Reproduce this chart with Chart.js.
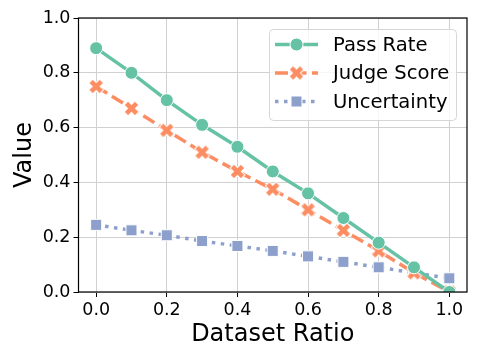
<!DOCTYPE html>
<html><head><meta charset="utf-8">
<script src="https://cdn.jsdelivr.net/npm/chart.js@4"></script>
<style>html,body{margin:0;padding:0;background:#fff}#wrap{width:478px;height:359px}</style>
</head><body><div id="wrap"><canvas id="c" width="478" height="359"></canvas></div>
<script>
const ratios = [0.0,0.1,0.2,0.3,0.4,0.5,0.6,0.7,0.8,0.9,1.0];
const passRate = [0.89,0.80,0.70,0.61,0.53,0.44,0.36,0.27,0.18,0.09,0.0];
const judgeScore = [0.75,0.67,0.59,0.51,0.44,0.375,0.30,0.225,0.15,0.07,0.0];
const uncertainty = [0.245,0.225,0.207,0.186,0.168,0.15,0.13,0.11,0.09,0.07,0.05];
const xTicks = [0.0,0.2,0.4,0.6,0.8,1.0];
const yTicks = [0.0,0.2,0.4,0.6,0.8,1.0];
const seriesNames = ['Pass Rate','Judge Score','Uncertainty'];

const FONT = 'DejaVu Sans';
const C1='#66c2a5', C2='#fc8d62', C3='#8da0cb';

function xMarker(color, r){
  const s = Math.ceil(r*2+4);
  const cv = document.createElement('canvas'); cv.width=s; cv.height=s;
  const ctx = cv.getContext('2d');
  const c = s/2, a = r*1.05, t = r*0.38;
  ctx.translate(c,c); ctx.rotate(Math.PI/4);
  ctx.beginPath();
  ctx.moveTo(-t,-a); ctx.lineTo(t,-a); ctx.lineTo(t,-t); ctx.lineTo(a,-t); ctx.lineTo(a,t);
  ctx.lineTo(t,t); ctx.lineTo(t,a); ctx.lineTo(-t,a); ctx.lineTo(-t,t); ctx.lineTo(-a,t);
  ctx.lineTo(-a,-t); ctx.lineTo(-t,-t); ctx.closePath();
  ctx.fillStyle=color; ctx.fill();
  ctx.strokeStyle='#fff'; ctx.lineWidth=1; ctx.stroke();
  return cv;
}
const xImg = xMarker(C2, 7.3);

const pts = arr => ratios.map((x,i)=>({x, y: arr[i]}));

const frameAndLegend = {
  id:'frameAndLegend',
  afterDatasetsDraw(chart){
    const {ctx, chartArea:a} = chart;
    ctx.save();
    ctx.strokeStyle='#000'; ctx.lineWidth=1.2;
    ctx.strokeRect(a.left, a.top, a.right-a.left, a.bottom-a.top);
    ctx.restore();
  },
  afterDraw(chart){
    const ctx = chart.ctx;
    const L = {x:269.5, y:29.5, w:187, h:91, r:4};
    ctx.save();
    ctx.beginPath();
    ctx.roundRect(L.x, L.y, L.w, L.h, L.r);
    ctx.fillStyle='rgba(255,255,255,0.8)'; ctx.fill();
    ctx.strokeStyle='#d6d6d6'; ctx.lineWidth=1; ctx.stroke();
    const rows=[44.5,73,101.5];
    chart.data.datasets.forEach((ds,i)=>{
      const y = rows[i];
      ctx.save();
      ctx.strokeStyle=ds.borderColor; ctx.lineWidth=ds.borderWidth;
      ctx.setLineDash(ds.borderDash||[]);
      ctx.lineCap='butt';
      ctx.beginPath(); ctx.moveTo(275,y); ctx.lineTo(318,y); ctx.stroke();
      ctx.restore();
      const ps = ds.pointStyle;
      if (ps instanceof HTMLCanvasElement){
        ctx.drawImage(ps, 296.5-ps.width/2, y-ps.height/2);
      } else {
        ctx.fillStyle=ds.pointBackgroundColor; ctx.strokeStyle=ds.pointBorderColor; ctx.lineWidth=ds.pointBorderWidth;
        ctx.beginPath();
        if (ps==='circle'){ ctx.arc(296.5,y,ds.pointRadius,0,Math.PI*2);} else { const s=ds.pointRadius*Math.SQRT1_2; ctx.rect(296.5-s,y-s,2*s,2*s);}
        ctx.fill(); ctx.stroke();
      }
      ctx.fillStyle='#000'; ctx.font='19.6px "'+FONT+'"'; ctx.textBaseline='middle'; ctx.textAlign='left';
      ctx.fillText(ds.label, 333, y+1);
    });
    ctx.restore();
  }
};

new Chart(document.getElementById('c'), {
  type:'line',
  data:{datasets:[
    {label:seriesNames[0], data:pts(passRate), borderColor:C1, backgroundColor:C1, borderWidth:3.5,
     pointStyle:'circle', pointRadius:6.5, pointBackgroundColor:C1, pointBorderColor:'#fff', pointBorderWidth:1},
    {label:seriesNames[1], data:pts(judgeScore), borderColor:C2, backgroundColor:C2, borderWidth:3.5, borderDash:[13,5.5],
     pointStyle:xImg, pointRadius:7},
    {label:seriesNames[2], data:pts(uncertainty), borderColor:C3, backgroundColor:C3, borderWidth:3.5, borderDash:[3.5,5.5],
     pointStyle:'rect', pointRadius:7.8, pointBackgroundColor:C3, pointBorderColor:'#fff', pointBorderWidth:1}
  ]},
  options:{
    responsive:false, animation:false, devicePixelRatio:1,
    layout:{padding:{left:0, top:18, right:11, bottom:0}},
    plugins:{legend:{display:false}, tooltip:{enabled:false}},
    elements:{line:{tension:0}},
    scales:{
      x:{type:'linear', min:-0.05, max:1.05,
        afterBuildTicks(s){ s.ticks = xTicks.map(v=>({value:v})); },
        afterFit(s){ s.height = 67; },
        grid:{color:'#d0d0d0', lineWidth:1, tickColor:'#000', tickLength:5, drawTicks:true},
        border:{display:false},
        ticks:{color:'#000', font:{family:FONT, size:17.5}, padding:3, maxRotation:0,
          callback:(v)=>v.toFixed(1)},
        title:{display:true, text:'Dataset Ratio', color:'#000', font:{family:FONT, size:24}, padding:{top:0,bottom:10}}
      },
      y:{type:'linear', min:0, max:1,
        afterBuildTicks(s){ s.ticks = yTicks.map(v=>({value:v})); },
        afterFit(s){ s.width = 78.5; },
        grid:{color:'#d0d0d0', lineWidth:1, tickColor:'#000', tickLength:5, drawTicks:true},
        border:{display:false},
        ticks:{color:'#000', font:{family:FONT, size:17.5}, padding:3,
          callback:(v)=>v.toFixed(1)},
        title:{display:true, text:'Value', color:'#000', font:{family:FONT, size:24}, padding:{top:10,bottom:0}}
      }
    }
  },
  plugins:[frameAndLegend]
});
</script></body></html>
